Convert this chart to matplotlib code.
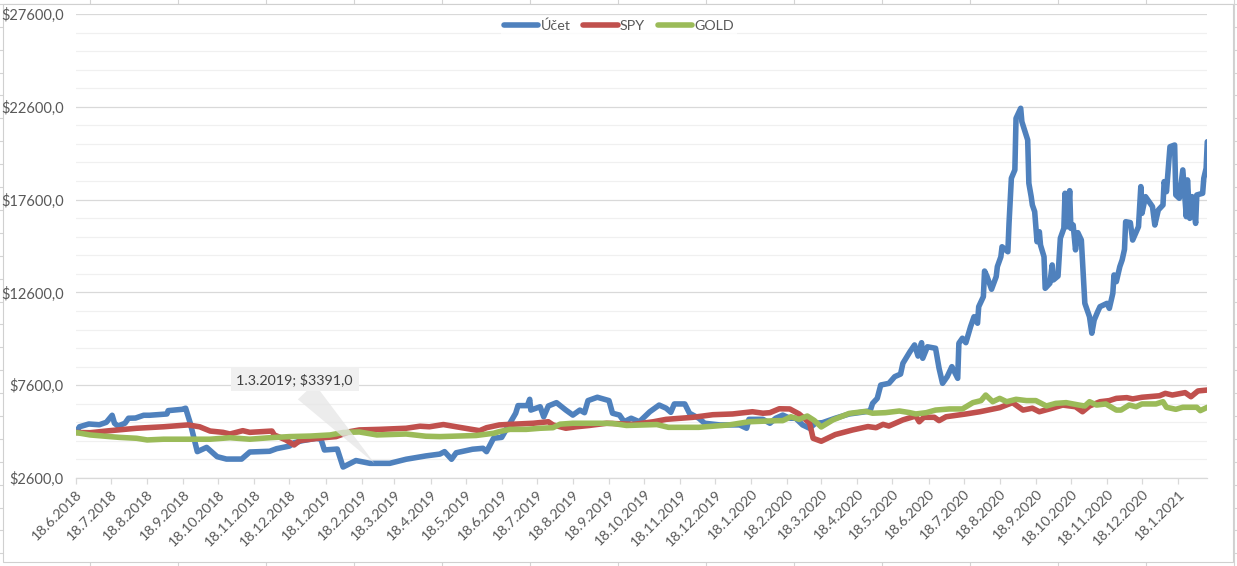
import matplotlib
matplotlib.use("Agg")
import matplotlib.pyplot as plt
from matplotlib.ticker import FuncFormatter, FixedLocator
from matplotlib.lines import Line2D
from matplotlib.patches import Rectangle
from datetime import datetime

# ---- data ----
ucet_dates = [
    "18.6.2018", "21.6.2018", "29.6.2018", "8.7.2018", "14.7.2018", "19.7.2018", "21.7.2018", "24.7.2018", "30.7.2018", "2.8.2018",
    "8.8.2018", "15.8.2018", "20.8.2018", "4.9.2018", "5.9.2018", "17.9.2018", "20.9.2018", "24.9.2018", "30.9.2018", "8.10.2018",
    "17.10.2018", "25.10.2018", "7.11.2018", "14.11.2018", "1.12.2018", "7.12.2018", "18.12.2018", "22.12.2018", "29.12.2018", "10.1.2019",
    "14.1.2019", "17.1.2019", "28.1.2019", "2.2.2019", "13.2.2019", "25.2.2019", "1.3.2019", "14.3.2019", "28.3.2019", "14.4.2019",
    "26.4.2019", "30.4.2019", "6.5.2019", "10.5.2019", "24.5.2019", "2.6.2019", "5.6.2019", "11.6.2019", "18.6.2019", "25.6.2019",
    "30.6.2019", "2.7.2019", "10.7.2019", "12.7.2019", "13.7.2019", "21.7.2019", "24.7.2019", "28.7.2019", "4.8.2019", "12.8.2019",
    "18.8.2019", "24.8.2019", "28.8.2019", "31.8.2019", "8.9.2019", "18.9.2019", "21.9.2019", "27.9.2019", "1.10.2019", "7.10.2019",
    "14.10.2019", "23.10.2019", "31.10.2019", "6.11.2019", "10.11.2019", "13.11.2019", "22.11.2019", "26.11.2019", "4.12.2019", "9.12.2019",
    "22.12.2019", "8.1.2020", "14.1.2020", "16.1.2020", "28.1.2020", "3.2.2020", "8.2.2020", "14.2.2020", "20.2.2020", "25.2.2020",
    "2.3.2020", "8.3.2020", "13.3.2020", "19.3.2020", "30.3.2020", "11.4.2020", "25.4.2020", "29.4.2020", "1.5.2020", "5.5.2020",
    "8.5.2020", "15.5.2020", "20.5.2020", "25.5.2020", "27.5.2020", "2.6.2020", "6.6.2020", "9.6.2020", "12.6.2020", "13.6.2020",
    "17.6.2020", "24.6.2020", "27.6.2020", "30.6.2020", "4.7.2020", "8.7.2020", "13.7.2020", "14.7.2020", "17.7.2020", "20.7.2020",
    "24.7.2020", "27.7.2020", "30.7.2020", "31.7.2020", "4.8.2020", "5.8.2020", "7.8.2020", "11.8.2020", "15.8.2020", "16.8.2020",
    "19.8.2020", "20.8.2020", "25.8.2020", "26.8.2020", "28.8.2020", "31.8.2020", "1.9.2020", "5.9.2020", "6.9.2020", "11.9.2020",
    "12.9.2020", "14.9.2020", "15.9.2020", "17.9.2020", "19.9.2020", "21.9.2020", "22.9.2020", "25.9.2020", "26.9.2020", "30.9.2020",
    "2.10.2020", "3.10.2020", "7.10.2020", "9.10.2020", "12.10.2020", "13.10.2020", "15.10.2020", "17.10.2020", "18.10.2020", "20.10.2020",
    "22.10.2020", "24.10.2020", "27.10.2020", "30.10.2020", "3.11.2020", "5.11.2020", "7.11.2020", "10.11.2020", "12.11.2020", "18.11.2020",
    "20.11.2020", "23.11.2020", "24.11.2020", "26.11.2020", "29.11.2020", "1.12.2020", "3.12.2020", "4.12.2020", "8.12.2020", "10.12.2020",
    "15.12.2020", "17.12.2020", "18.12.2020", "21.12.2020", "27.12.2020", "29.12.2020", "1.1.2021", "5.1.2021", "6.1.2021", "8.1.2021",
    "11.1.2021", "15.1.2021", "16.1.2021", "19.1.2021", "22.1.2021", "25.1.2021", "26.1.2021", "28.1.2021", "30.1.2021", "2.2.2021",
    "3.2.2021", "8.2.2021", "9.2.2021", "11.2.2021", "12.2.2021",
]
ucet_values = [
    5050, 5360, 5510, 5470, 5600, 5980, 5550, 5400, 5550, 5820,
    5830, 5980, 5980, 6050, 6230, 6300, 6360, 5550, 4020, 4250,
    3750, 3620, 3620, 4000, 4040, 4180, 4320, 4500, 4610, 4740,
    4690, 4110, 4160, 3190, 3540, 3390, 3391, 3390, 3610, 3790,
    3890, 4020, 3610, 3960, 4150, 4200, 4020, 4740, 4790, 5550,
    6090, 6500, 6500, 6840, 6260, 6440, 5900, 6480, 6660, 6260,
    5990, 6260, 6120, 6770, 6950, 6770, 6090, 5990, 5630, 5820,
    5630, 6170, 6530, 6360, 6140, 6590, 6590, 6090, 5820, 5550,
    5460, 5460, 5280, 5760, 5760, 5550, 5820, 5990, 5820, 5820,
    5460, 5280, 5550, 5580, 5820, 6050, 6170, 6230, 6620, 6890,
    7610, 7700, 8060, 8200, 8780, 9400, 9770, 9170, 9890, 9050,
    9670, 9590, 8510, 7700, 8060, 8600, 7970, 9860, 10130, 9890,
    10750, 11290, 10940, 11830, 12370, 13750, 13480, 12770, 13450, 13990,
    14520, 15060, 14790, 16320, 18750, 19200, 21980, 22520, 21800, 20810,
    18480, 17760, 17310, 16950, 15330, 15870, 15150, 14520, 12820, 13090,
    14080, 13270, 13480, 15520, 16050, 17940, 16140, 18080, 16050, 16230,
    14890, 15820, 15420, 12010, 11290, 10400, 11110, 11560, 11830, 12010,
    11740, 12550, 13540, 13180, 13990, 14350, 14920, 16410, 16360, 15420,
    16140, 18300, 16860, 17760, 17220, 16230, 17040, 17310, 18570, 18030,
    20450, 20540, 17850, 17670, 19200, 16680, 18660, 16590, 17760, 16320,
    17850, 17940, 18750, 19290, 20720,
]

spy_dates = [
    "18.6.2018", "30.6.2018", "17.7.2018", "9.8.2018", "1.9.2018", "22.9.2018", "2.10.2018", "11.10.2018", "22.10.2018", "28.10.2018",
    "8.11.2018", "14.11.2018", "3.12.2018", "5.12.2018", "15.12.2018", "22.12.2018", "27.12.2018", "16.1.2019", "27.1.2019", "8.2.2019",
    "16.2.2019", "5.3.2019", "28.3.2019", "9.4.2019", "17.4.2019", "29.4.2019", "10.5.2019", "30.5.2019", "5.6.2019", "16.6.2019",
    "25.6.2019", "15.7.2019", "28.7.2019", "1.8.2019", "12.8.2019", "21.8.2019", "1.9.2019", "16.9.2019", "9.10.2019", "26.10.2019",
    "6.11.2019", "29.11.2019", "16.12.2019", "2.1.2020", "19.1.2020", "28.1.2020", "3.2.2020", "11.2.2020", "20.2.2020", "28.2.2020",
    "8.3.2020", "11.3.2020", "18.3.2020", "30.3.2020", "14.4.2020", "27.4.2020", "4.5.2020", "10.5.2020", "15.5.2020", "27.5.2020",
    "7.6.2020", "10.6.2020", "14.6.2020", "23.6.2020", "27.6.2020", "3.7.2020", "20.7.2020", "1.8.2020", "18.8.2020", "29.8.2020",
    "7.9.2020", "15.9.2020", "21.9.2020", "2.10.2020", "11.10.2020", "22.10.2020", "28.10.2020", "3.11.2020", "12.11.2020", "20.11.2020",
    "26.11.2020", "5.12.2020", "10.12.2020", "18.12.2020", "2.1.2021", "7.1.2021", "13.1.2021", "24.1.2021", "29.1.2021", "4.2.2021",
    "12.2.2021",
]
spy_values = [
    5050, 5040, 5150, 5280, 5360, 5460, 5360, 5130, 5060, 4970,
    5150, 5060, 5130, 4920, 4650, 4380, 4620, 4770, 4830, 5100,
    5190, 5220, 5280, 5390, 5360, 5480, 5360, 5150, 5310, 5460,
    5490, 5550, 5630, 5460, 5280, 5360, 5430, 5550, 5490, 5630,
    5760, 5870, 6010, 6050, 6170, 6090, 6120, 6330, 6320, 6050,
    5560, 4740, 4580, 4940, 5190, 5370, 5310, 5490, 5400, 5730,
    5940, 5630, 5870, 5870, 5690, 5900, 6050, 6170, 6390, 6660,
    6260, 6360, 6170, 6360, 6530, 6440, 6170, 6480, 6710, 6770,
    6890, 6930, 6860, 6950, 7030, 7160, 7070, 7200, 6980, 7290,
    7340,
]

gold_dates = [
    "18.6.2018", "30.6.2018", "17.7.2018", "25.7.2018", "9.8.2018", "18.8.2018", "1.9.2018", "24.9.2018", "11.10.2018", "28.10.2018",
    "14.11.2018", "1.12.2018", "18.12.2018", "5.1.2019", "22.1.2019", "2.2.2019", "16.2.2019", "3.3.2019", "28.3.2019", "14.4.2019",
    "26.4.2019", "27.5.2019", "11.6.2019", "16.6.2019", "25.6.2019", "9.7.2019", "21.7.2019", "1.8.2019", "7.8.2019", "18.8.2019",
    "10.9.2019", "21.9.2019", "3.10.2019", "29.10.2019", "8.11.2019", "4.12.2019", "30.12.2019", "16.1.2020", "9.2.2020", "14.2.2020",
    "21.2.2020", "28.2.2020", "6.3.2020", "12.3.2020", "18.3.2020", "28.3.2020", "11.4.2020", "25.4.2020", "1.5.2020", "12.5.2020",
    "24.5.2020", "2.6.2020", "7.6.2020", "16.6.2020", "24.6.2020", "6.7.2020", "17.7.2020", "26.7.2020", "2.8.2020", "6.8.2020",
    "12.8.2020", "18.8.2020", "24.8.2020", "1.9.2020", "10.9.2020", "18.9.2020", "27.9.2020", "5.10.2020", "14.10.2020", "25.10.2020",
    "30.10.2020", "3.11.2020", "9.11.2020", "17.11.2020", "26.11.2020", "30.11.2020", "7.12.2020", "13.12.2020", "18.12.2020", "30.12.2020",
    "5.1.2021", "8.1.2021", "16.1.2021", "22.1.2021", "3.2.2021", "6.2.2021", "12.2.2021",
]
gold_values = [
    5050, 4920, 4830, 4790, 4740, 4650, 4690, 4690, 4690, 4770,
    4690, 4770, 4830, 4860, 4920, 5050, 5080, 4920, 4970, 4850,
    4830, 4890, 5010, 5100, 5220, 5220, 5280, 5310, 5500, 5550,
    5550, 5540, 5430, 5480, 5330, 5330, 5460, 5630, 5690, 5690,
    5900, 5760, 5940, 5700, 5350, 5730, 6080, 6190, 6090, 6120,
    6210, 6120, 6050, 6120, 6260, 6320, 6320, 6660, 6770, 7070,
    6710, 6890, 6710, 6840, 6770, 6770, 6480, 6620, 6660, 6530,
    6480, 6710, 6530, 6590, 6260, 6260, 6530, 6440, 6590, 6590,
    6710, 6410, 6300, 6410, 6410, 6230, 6410,
]

series_names = ["Účet", "SPY", "GOLD"]
series_colors = ["#4f81bd", "#c0504d", "#9bbb59"]
label_date = "1.3.2019"
y_min, y_max = 2600, 27600


def to_dt(s):
    return datetime.strptime(s, "%d.%m.%Y")


def money(v, pos=None):
    return ("$%.1f" % v).replace(".", ",")


W, H = 1237, 566
plt.rcParams['font.family'] = ['Lato', 'DejaVu Sans']
txt = "#595959"

fig = plt.figure(figsize=(W / 100, H / 100), dpi=100)
fig.patch.set_facecolor("white")

# spreadsheet cells peeking out around the chart
for cx in range(90, W, 88):
    fig.add_artist(Line2D([cx / W, cx / W], [0, 1], color="#d4d4d4", lw=0.8, zorder=-3))
k = 0
while 3.8 + 22.9 * k < H:
    cy = 1 - (3.8 + 22.9 * k) / H
    fig.add_artist(Line2D([0, 1], [cy, cy], color="#d4d4d4", lw=0.8, zorder=-3))
    k += 1
fig.add_artist(Rectangle((2.5 / W, 1 - 562 / H), (1233 - 2.5) / W, (562 - 3.5) / H,
                         transform=fig.transFigure, fc="white", ec="#d0d0d0", lw=0.8, zorder=-2))

ax = fig.add_axes([76 / W, 1 - 478 / H, (1207.3 - 76) / W, (478 - 14) / H])
ax.set_facecolor("none")

all_dates = [ucet_dates, spy_dates, gold_dates]
all_values = [ucet_values, spy_values, gold_values]
for name, col, ds, vs in zip(series_names, series_colors, all_dates, all_values):
    ax.plot([to_dt(d) for d in ds], vs, color=col, lw=4.0, label=name,
            solid_capstyle="round", solid_joinstyle="round", zorder=3)

ax.set_ylim(y_min, y_max)
ax.yaxis.set_major_locator(FixedLocator(list(range(y_min, y_max + 1, 5000))))
ax.yaxis.set_minor_locator(FixedLocator(list(range(y_min, y_max + 1, 1000))))
ax.yaxis.set_major_formatter(FuncFormatter(money))
ax.grid(which="major", axis="y", color="#d9d9d9", lw=0.9, zorder=0)
ax.grid(which="minor", axis="y", color="#f0f0f0", lw=0.9, zorder=0)

start = to_dt(ucet_dates[0])
end = to_dt(ucet_dates[-1])
ax.set_xlim(start, end)
ticks = [datetime(2018 + (5 + i) // 12, (5 + i) % 12 + 1, 18) for i in range(32)]
ax.set_xticks(ticks)
ax.set_xticklabels([f"{t.day}.{t.month}.{t.year}" for t in ticks],
                   rotation=45, ha="right", va="top", rotation_mode="anchor")

for s in ["top", "right", "left"]:
    ax.spines[s].set_visible(False)
ax.spines["bottom"].set_color("#d9d9d9")
ax.spines["bottom"].set_linewidth(0.9)
ax.tick_params(axis="x", colors="#d9d9d9", labelcolor=txt, labelsize=10.3, length=4, width=0.9, pad=3)
ax.tick_params(axis="y", which="both", length=0, labelcolor=txt, labelsize=10.5, pad=9)

leg = ax.legend(loc="center", bbox_to_anchor=(0.48, 0.974), ncol=3, frameon=True,
                fontsize=10.3, handlelength=2.4, handletextpad=0.15, columnspacing=0.9,
                borderpad=0.2, fancybox=False)
leg.get_frame().set_facecolor("white")
leg.get_frame().set_edgecolor("none")
for t in leg.get_texts():
    t.set_color(txt)
for h in leg.get_lines():
    h.set_solid_capstyle("round")

# data label callout
i = ucet_dates.index(label_date)
ax.annotate(f"{label_date}; {money(ucet_values[i])}", xy=(to_dt(label_date), ucet_values[i]),
            xytext=(-80, 84), textcoords="offset pixels", ha="center", va="center",
            fontsize=10.3, color="#404040", zorder=5,
            bbox=dict(boxstyle="square,pad=0.4", fc="#f0f0f0", ec="none"),
            arrowprops=dict(arrowstyle="wedge,tail_width=1.6,shrink_factor=0.5",
                            fc="#e6e6e6", ec="none", alpha=0.75, shrinkA=0, shrinkB=0))

fig.savefig("out.png", dpi=100)
